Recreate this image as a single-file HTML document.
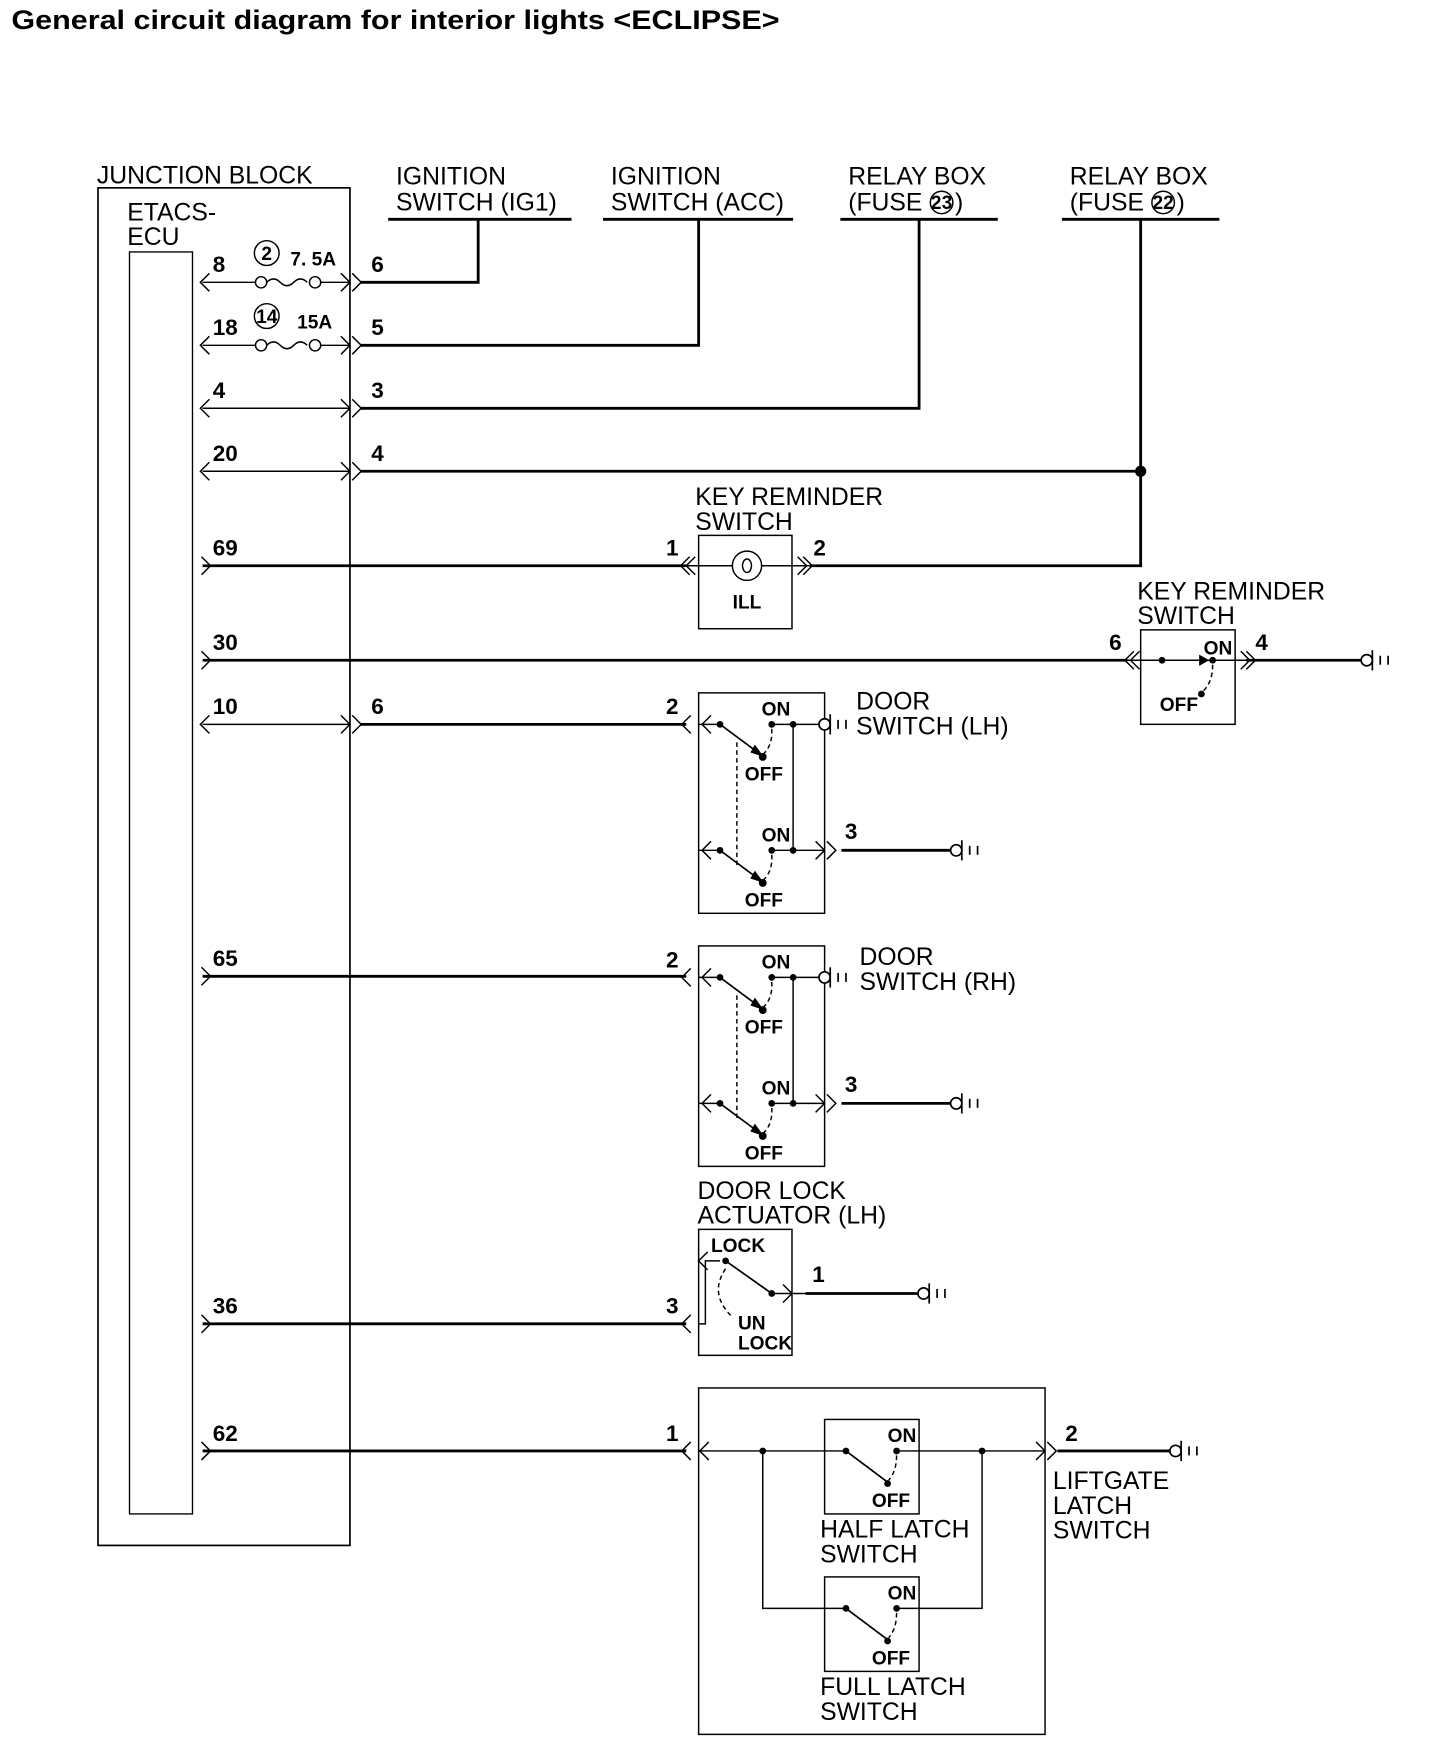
<!DOCTYPE html>
<html><head><meta charset="utf-8"><style>
html,body{margin:0;padding:0;background:#fff;}
svg{display:block}
.t{font-family:"Liberation Sans",sans-serif;font-size:22px;fill:#000}
.n{font-family:"Liberation Sans Narrow","Liberation Sans",sans-serif;font-weight:bold;font-size:20px;fill:#000}
.s{font-family:"Liberation Sans Narrow","Liberation Sans",sans-serif;font-weight:bold;font-size:17px;fill:#000}
</style></head><body>
<svg width="1440" height="1758" viewBox="0 0 1280 1563" xmlns="http://www.w3.org/2000/svg">
<defs>
<g id="gnd"><circle cx="5" cy="0" r="5" fill="#fff" stroke="#000" stroke-width="1.5"/><line x1="10" y1="-9" x2="10" y2="9" stroke="#000" stroke-width="1.5"/><line x1="17" y1="-4" x2="17" y2="4" stroke="#000" stroke-width="1.5"/><line x1="24" y1="-4" x2="24" y2="4" stroke="#000" stroke-width="1.5"/></g>
<g id="la"><path d="M8,-8 L0,0 L8,8" fill="none" stroke="#000" stroke-width="1.3"/></g>
<g id="ra"><path d="M-8,-8 L0,0 L-8,8" fill="none" stroke="#000" stroke-width="1.3"/></g>
<g id="sw">
<line x1="0" y1="0" x2="19" y2="0" stroke="#000" stroke-width="1.3"/>
<circle cx="19" cy="0" r="3"/><line x1="19" y1="0" x2="54" y2="26" stroke="#000" stroke-width="1.5"/><path d="M50,18 L58,29 L46,25Z"/>
<circle cx="57" cy="29" r="3.5"/>
<circle cx="65" cy="0" r="3"/><circle cx="84" cy="0" r="3"/>
<path d="M65,4 Q66,18 58,26" fill="none" stroke="#000" stroke-width="1.3" stroke-dasharray="4,3"/>
<line x1="65" y1="0" x2="112" y2="0" stroke="#000" stroke-width="1.3"/>
<use href="#la" x="3" y="0"/>
</g>
</defs>

<text x="10" y="26" font-family="Liberation Sans,sans-serif" font-weight="bold" font-size="24" textLength="683" lengthAdjust="spacingAndGlyphs">General circuit diagram for interior lights &lt;ECLIPSE&gt;</text>

<rect x="87" y="167" width="224" height="1207" fill="none" stroke="#000" stroke-width="1.5"/>
<text class="t" x="86" y="163">JUNCTION BLOCK</text>
<text class="t" x="113" y="196">ETACS-</text>
<text class="t" x="113" y="218">ECU</text>
<rect x="115" y="224" width="56" height="1122" fill="none" stroke="#000" stroke-width="1.2"/>

<text class="t" x="352" y="164">IGNITION</text><text class="t" x="352" y="187">SWITCH (IG1)</text>
<text class="t" x="543" y="164">IGNITION</text><text class="t" x="543" y="187">SWITCH (ACC)</text>
<text class="t" x="754" y="164">RELAY BOX</text><text class="t" x="754" y="187">(FUSE</text><text class="t" x="849" y="187">)</text>
<text class="t" x="951" y="164">RELAY BOX</text><text class="t" x="951" y="187">(FUSE</text><text class="t" x="1046" y="187">)</text>
<circle cx="837" cy="180" r="10" fill="none" stroke="#000" stroke-width="1.3"/><text class="s" x="837" y="186" text-anchor="middle" font-size="14">23</text>
<circle cx="1034" cy="180" r="10" fill="none" stroke="#000" stroke-width="1.3"/><text class="s" x="1034" y="186" text-anchor="middle" font-size="14">22</text>
<g stroke="#000" stroke-width="2.5" fill="none">
<line x1="345" y1="195" x2="508" y2="195"/><line x1="536" y1="195" x2="705" y2="195"/>
<line x1="747" y1="195" x2="887" y2="195"/><line x1="944" y1="195" x2="1084" y2="195"/>
<polyline points="320,251 425,251 425,195"/>
<polyline points="320,307 621,307 621,195"/>
<polyline points="320,363 817,363 817,195"/>
<polyline points="320,419 1014,419"/>
<polyline points="720,503 1014,503 1014,195"/>
<line x1="180" y1="503" x2="610" y2="503"/>
<line x1="180" y1="587" x2="1002" y2="587"/>
<line x1="1108" y1="587" x2="1210" y2="587"/>
<line x1="320" y1="644" x2="610" y2="644"/>
<line x1="180" y1="868" x2="610" y2="868"/>
<line x1="180" y1="1177" x2="610" y2="1177"/>
<line x1="180" y1="1290" x2="610" y2="1290"/>
<line x1="748" y1="756" x2="845" y2="756"/>
<line x1="748" y1="981" x2="845" y2="981"/>
<line x1="716" y1="1150" x2="816" y2="1150"/>
<line x1="940" y1="1290" x2="1040" y2="1290"/>
</g>
<circle cx="1014" cy="419" r="5"/>

<g stroke="#000" stroke-width="1.3" fill="none">
<line x1="180" y1="251" x2="232" y2="251"/><line x1="280" y1="251" x2="311" y2="251"/>
<line x1="180" y1="307" x2="232" y2="307"/><line x1="280" y1="307" x2="311" y2="307"/>
<line x1="180" y1="363" x2="311" y2="363"/>
<line x1="180" y1="419" x2="311" y2="419"/>
<line x1="180" y1="644" x2="311" y2="644"/>
<path d="M237,251 q6,-6 12,0 t12,0 t12,0"/>
<path d="M237,307 q6,-6 12,0 t12,0 t12,0"/>
</g>
<g fill="#fff" stroke="#000" stroke-width="1.3">
<circle cx="232" cy="251" r="5"/><circle cx="280" cy="251" r="5"/>
<circle cx="232" cy="307" r="5"/><circle cx="280" cy="307" r="5"/>
<circle cx="237" cy="225" r="11" fill="none"/><circle cx="237" cy="281" r="11" fill="none"/>
</g>
<text class="s" x="237" y="231" text-anchor="middle">2</text>
<text class="s" x="237" y="287" text-anchor="middle">14</text>
<text class="s" x="258" y="236">7. 5A</text><text class="s" x="264" y="292">15A</text>

<g>
<use href="#la" x="178" y="251"/><use href="#ra" x="311" y="251"/><use href="#ra" x="321" y="251"/>
<use href="#la" x="178" y="307"/><use href="#ra" x="311" y="307"/><use href="#ra" x="321" y="307"/>
<use href="#la" x="178" y="363"/><use href="#ra" x="311" y="363"/><use href="#ra" x="321" y="363"/>
<use href="#la" x="178" y="419"/><use href="#ra" x="311" y="419"/><use href="#ra" x="321" y="419"/>
<use href="#ra" x="187" y="503"/>
<use href="#ra" x="187" y="587"/>
<use href="#la" x="178" y="644"/><use href="#ra" x="311" y="644"/><use href="#ra" x="321" y="644"/>
<use href="#ra" x="187" y="868"/>
<use href="#ra" x="187" y="1177"/>
<use href="#ra" x="187" y="1290"/>
</g>
<text class="n" x="189" y="242">8</text><text class="n" x="330" y="242">6</text>
<text class="n" x="189" y="298">18</text><text class="n" x="330" y="298">5</text>
<text class="n" x="189" y="354">4</text><text class="n" x="330" y="354">3</text>
<text class="n" x="189" y="410">20</text><text class="n" x="330" y="410">4</text>
<text class="n" x="189" y="494">69</text>
<text class="n" x="189" y="578">30</text>
<text class="n" x="189" y="635">10</text><text class="n" x="330" y="635">6</text>
<text class="n" x="189" y="859">65</text>
<text class="n" x="189" y="1168">36</text>
<text class="n" x="189" y="1281">62</text>

<text class="t" x="618" y="449">KEY REMINDER</text><text class="t" x="618" y="471">SWITCH</text>
<rect x="621" y="476" width="83" height="83" fill="none" stroke="#000" stroke-width="1.3"/>
<line x1="604" y1="503" x2="720" y2="503" stroke="#000" stroke-width="1.3"/>
<circle cx="664" cy="503" r="13" fill="#fff" stroke="#000" stroke-width="1.3"/>
<ellipse cx="664" cy="503" rx="4" ry="6" fill="none" stroke="#000" stroke-width="1.3"/>
<text class="s" x="664" y="541" text-anchor="middle">ILL</text>
<use href="#la" x="605" y="503"/><use href="#la" x="610" y="503"/>
<use href="#ra" x="717" y="503"/><use href="#ra" x="722" y="503"/>
<text class="n" x="592" y="494">1</text><text class="n" x="723" y="494">2</text>

<text class="t" x="1011" y="533">KEY REMINDER</text><text class="t" x="1011" y="555">SWITCH</text>
<rect x="1014" y="560" width="84" height="84" fill="none" stroke="#000" stroke-width="1.3"/>
<line x1="1000" y1="587" x2="1110" y2="587" stroke="#000" stroke-width="1.3"/>
<circle cx="1033" cy="587" r="3"/><circle cx="1078" cy="587" r="3"/><path d="M1066,582 L1075,587 L1066,592Z"/>
<circle cx="1068" cy="617" r="3"/>
<path d="M1078,591 Q1078,606 1070,614" fill="none" stroke="#000" stroke-width="1.3" stroke-dasharray="4,3"/>
<text class="s" x="1070" y="582">ON</text><text class="s" x="1031" y="632">OFF</text>
<use href="#la" x="1000" y="587"/><use href="#la" x="1005" y="587"/>
<use href="#ra" x="1111" y="587"/><use href="#ra" x="1116" y="587"/>
<text class="n" x="986" y="578">6</text><text class="n" x="1116" y="578">4</text>
<use href="#gnd" x="1210" y="587"/>

<g>
<rect x="621" y="616" width="112" height="196" fill="none" stroke="#000" stroke-width="1.3"/>
<use href="#sw" x="621" y="644"/><use href="#sw" x="621" y="756"/>
<use href="#la" x="606" y="644"/>
<line x1="705" y1="644" x2="705" y2="756" stroke="#000" stroke-width="1.3"/>
<line x1="655" y1="660" x2="655" y2="770" stroke="#000" stroke-width="1.3" stroke-dasharray="4,3"/>
<text class="s" x="677" y="636">ON</text><text class="s" x="662" y="694">OFF</text>
<text class="s" x="677" y="748">ON</text><text class="s" x="662" y="806">OFF</text>
<use href="#ra" x="733" y="756"/><use href="#ra" x="743" y="756"/>
<text class="n" x="592" y="635">2</text><text class="n" x="751" y="746">3</text>
<use href="#gnd" x="728" y="644"/><use href="#gnd" x="845" y="756"/>
<text class="t" x="761" y="631">DOOR</text><text class="t" x="761" y="653">SWITCH (LH)</text>
</g>
<g transform="translate(0,225)">
<rect x="621" y="616" width="112" height="196" fill="none" stroke="#000" stroke-width="1.3"/>
<use href="#sw" x="621" y="644"/><use href="#sw" x="621" y="756"/>
<use href="#la" x="606" y="644"/>
<line x1="705" y1="644" x2="705" y2="756" stroke="#000" stroke-width="1.3"/>
<line x1="655" y1="660" x2="655" y2="770" stroke="#000" stroke-width="1.3" stroke-dasharray="4,3"/>
<text class="s" x="677" y="636">ON</text><text class="s" x="662" y="694">OFF</text>
<text class="s" x="677" y="748">ON</text><text class="s" x="662" y="806">OFF</text>
<use href="#ra" x="733" y="756"/><use href="#ra" x="743" y="756"/>
<text class="n" x="592" y="635">2</text><text class="n" x="751" y="746">3</text>
<use href="#gnd" x="728" y="644"/><use href="#gnd" x="845" y="756"/>
<text class="t" x="764" y="633">DOOR</text><text class="t" x="764" y="655">SWITCH (RH)</text>
</g>

<text class="t" x="620" y="1066">DOOR LOCK</text><text class="t" x="620" y="1088">ACTUATOR (LH)</text>
<rect x="621" y="1093" width="83" height="112" fill="none" stroke="#000" stroke-width="1.3"/>
<polyline points="621,1177 627,1177 627,1121 640,1121" fill="none" stroke="#000" stroke-width="1.3"/>
<use href="#la" x="621" y="1121"/><use href="#la" x="606" y="1177"/>
<circle cx="645" cy="1121" r="3"/><line x1="645" y1="1121" x2="686" y2="1150" stroke="#000" stroke-width="1.5"/><circle cx="686" cy="1150" r="3"/>
<line x1="686" y1="1150" x2="716" y2="1150" stroke="#000" stroke-width="1.3"/>
<use href="#ra" x="704" y="1150"/>
<path d="M645,1128 Q630,1150 650,1170" fill="none" stroke="#000" stroke-width="1.3" stroke-dasharray="4,3"/>
<text class="s" x="632" y="1113">LOCK</text><text class="s" x="656" y="1182">UN</text><text class="s" x="656" y="1200">LOCK</text>
<text class="n" x="592" y="1168">3</text><text class="n" x="722" y="1140">1</text>
<use href="#gnd" x="816" y="1150"/>

<rect x="621" y="1234" width="308" height="308" fill="none" stroke="#000" stroke-width="1.3"/>
<g stroke="#000" stroke-width="1.3" fill="none">
<line x1="621" y1="1290" x2="929" y2="1290"/>
<polyline points="678,1290 678,1430 752,1430"/>
<polyline points="873,1290 873,1430 797,1430"/>
</g>
<use href="#la" x="606" y="1290"/><use href="#la" x="622" y="1290"/>
<use href="#ra" x="929" y="1290"/><use href="#ra" x="939" y="1290"/>
<circle cx="678" cy="1290" r="3"/><circle cx="873" cy="1290" r="3"/>
<rect x="733" y="1262" width="84" height="84" fill="#fff" stroke="#000" stroke-width="1.3"/>
<rect x="733" y="1402" width="84" height="84" fill="#fff" stroke="#000" stroke-width="1.3"/>
<g stroke="#000" stroke-width="1.3" fill="none">
<line x1="733" y1="1290" x2="752" y2="1290"/><line x1="797" y1="1290" x2="817" y2="1290"/>
<line x1="733" y1="1430" x2="752" y2="1430"/><line x1="797" y1="1430" x2="817" y2="1430"/>
<line x1="752" y1="1290" x2="788" y2="1317" stroke-width="1.5"/>
<line x1="752" y1="1430" x2="788" y2="1457" stroke-width="1.5"/>
<path d="M797,1294 Q797,1308 790,1316" stroke-dasharray="4,3"/>
<path d="M797,1434 Q797,1448 790,1456" stroke-dasharray="4,3"/>
</g>
<circle cx="752" cy="1290" r="3"/><circle cx="797" cy="1290" r="3"/><circle cx="789" cy="1319" r="3"/>
<circle cx="752" cy="1430" r="3"/><circle cx="797" cy="1430" r="3"/><circle cx="789" cy="1459" r="3"/>
<text class="s" x="789" y="1282">ON</text><text class="s" x="775" y="1340">OFF</text>
<text class="s" x="789" y="1422">ON</text><text class="s" x="775" y="1480">OFF</text>
<text class="t" x="729" y="1367">HALF LATCH</text><text class="t" x="729" y="1389">SWITCH</text>
<text class="t" x="729" y="1507">FULL LATCH</text><text class="t" x="729" y="1529">SWITCH</text>
<text class="n" x="592" y="1281">1</text><text class="n" x="947" y="1281">2</text>
<use href="#gnd" x="1040" y="1290"/>
<text class="t" x="936" y="1324">LIFTGATE</text><text class="t" x="936" y="1346">LATCH</text><text class="t" x="936" y="1368">SWITCH</text>
</svg>
</body></html>
